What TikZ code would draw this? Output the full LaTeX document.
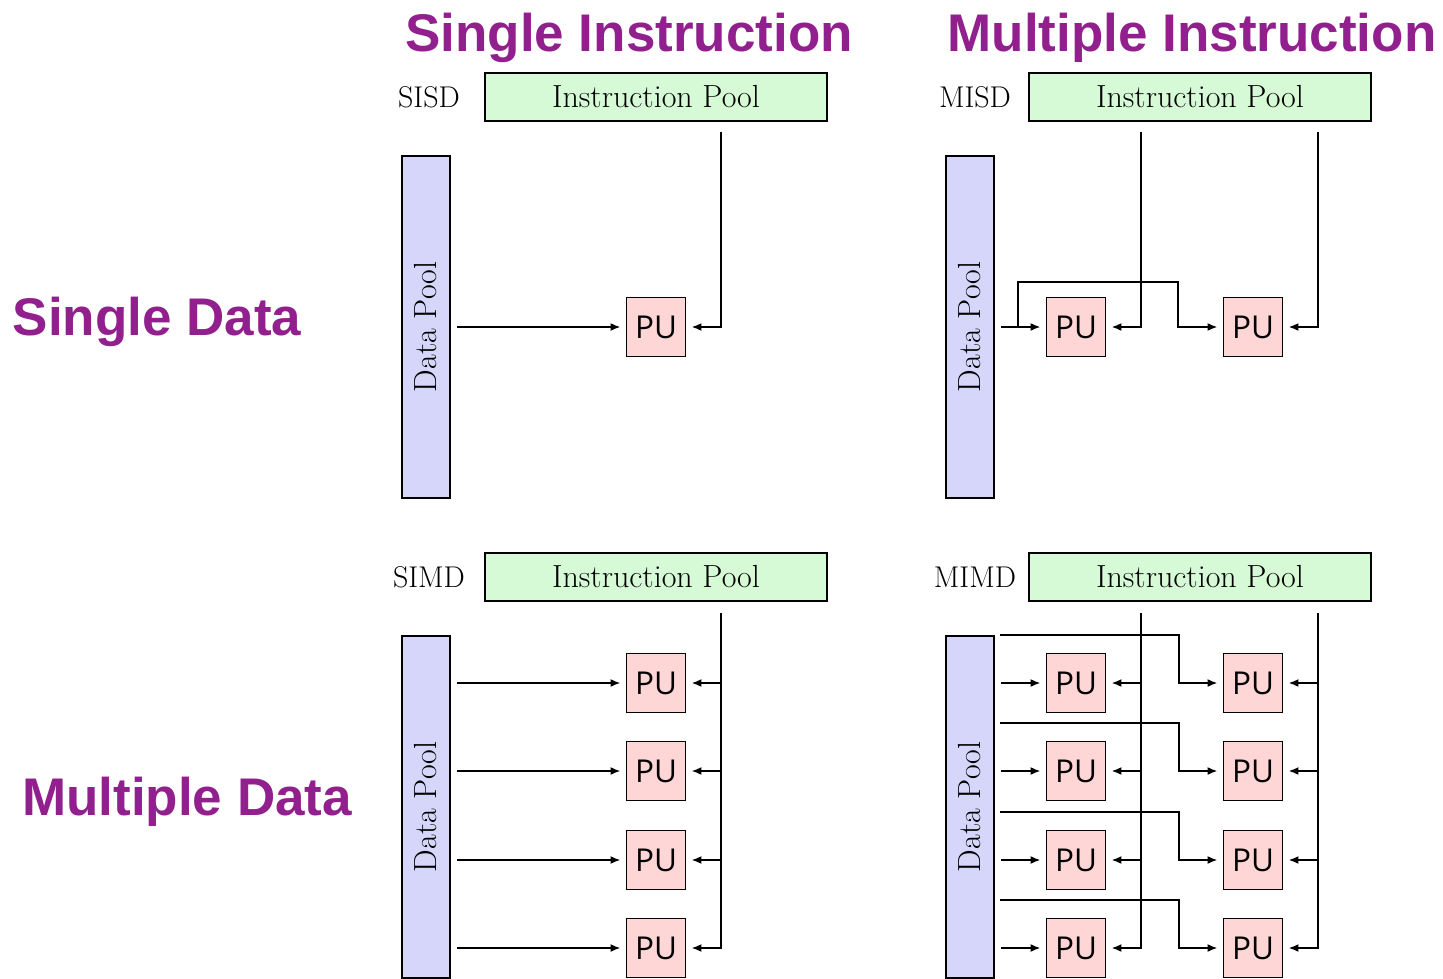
\documentclass[tikz,border=0pt]{standalone}
\usepackage{fontspec}
\newfontfamily\titlefont{Liberation Sans}
\newfontfamily\pufont{Open Sans}
\usetikzlibrary{arrows.meta}
\definecolor{titlepurple}{RGB}{146,31,142}
\definecolor{ipgreen}{RGB}{214,250,214}
\definecolor{dpblue}{RGB}{214,214,250}
\definecolor{pupink}{RGB}{255,214,214}
\tikzset{
  ipool/.style={draw, fill=ipgreen, line width=2pt, minimum width=342pt, minimum height=48pt, inner sep=0pt, font=\fontsize{32}{34}\selectfont},
  dpool/.style={draw, fill=dpblue, line width=2pt, minimum width=48pt, minimum height=342pt, inner sep=0pt, font=\fontsize{32}{34}\selectfont},
  pu/.style={draw, fill=pupink, line width=1.8pt, minimum size=59pt, inner sep=0pt, font=\pufont\fontsize{31.5}{33}\selectfont},
  flow/.style={line width=2pt, -{Latex[length=10pt,width=8pt]}, shorten >=5pt},
  tag/.style={font=\fontsize{30}{32}\selectfont},
  heading/.style={font=\titlefont\bfseries\fontsize{53}{60}\selectfont, text=titlepurple, anchor=base}
}
\begin{document}
\begin{tikzpicture}[x=1pt,y=-1pt]
\useasboundingbox (0,0) rectangle (1443,979);
% headings
\node[heading] (hsi) at (629,52) {Single Instruction};
\node[heading] (hmi) at (1192,52) {Multiple Instruction};
\node[heading] (hsd) at (157,335) {Single Data};
\node[heading] (hmd) at (187,815) {Multiple Data};

% SISD
\node[tag] (t1) at (429,97) {SISD};
\node[ipool] (ip1) at (656,97) {Instruction Pool};
\node[dpool] (dp1) at (426,327) {\rotatebox{90}{Data Pool}};
\node[pu] (pus) at (656,327) {PU};
\coordinate (i1) at (721,132);
\draw[flow, shorten <=6pt] (dp1.east |- pus) -- (pus.west);
\draw[flow] (i1) |- (pus.east);

% MISD
\node[tag] (t2) at (975,97) {MISD};
\node[ipool] (ip2) at (1200,97) {Instruction Pool};
\node[dpool] (dp2) at (970,327) {\rotatebox{90}{Data Pool}};
\node[pu] (pum1) at (1076,327) {PU};
\node[pu] (pum2) at (1253,327) {PU};
\coordinate (i2a) at (1141,132);
\coordinate (i2b) at (1318,132);
\coordinate (split) at (1018,327);
\draw[flow, shorten <=6pt] (dp2.east |- pum1) -- (pum1.west);
\draw[flow] (split) |- (1178,282) |- (pum2.west);
\draw[flow] (i2a) |- (pum1.east);
\draw[flow] (i2b) |- (pum2.east);

% SIMD
\node[tag] (t3) at (429,577) {SIMD};
\node[ipool] (ip3) at (656,577) {Instruction Pool};
\node[dpool] (dp3) at (426,807) {\rotatebox{90}{Data Pool}};
\coordinate (i3) at (721,613);

% MIMD
\node[tag] (t4) at (975,577) {MIMD};
\node[ipool] (ip4) at (1200,577) {Instruction Pool};
\node[dpool] (dp4) at (970,807) {\rotatebox{90}{Data Pool}};
\coordinate (i4) at (1141,613);
\coordinate (i5) at (1318,613);

\foreach \r/\y in {1/683,2/771,3/860,4/948}{
  \pgfmathsetmacro{\b}{\y-48}
  \node[pu] (pua\r) at (656,\y) {PU};
  \draw[flow, shorten <=6pt] (dp3.east |- pua\r) -- (pua\r.west);
  \draw[flow] (i3) |- (pua\r.east);
  \node[pu] (pub\r) at (1076,\y) {PU};
  \node[pu] (puc\r) at (1253,\y) {PU};
  \coordinate (br\r) at (1000,\b);
  \draw[flow, shorten <=6pt] (dp4.east |- pub\r) -- (pub\r.west);
  \draw[flow] (br\r) -| ([xshift=-44pt]puc\r.west) -- (puc\r.west);
  \draw[flow] (i4) |- (pub\r.east);
  \draw[flow] (i5) |- (puc\r.east);
}
\end{tikzpicture}
\end{document}
